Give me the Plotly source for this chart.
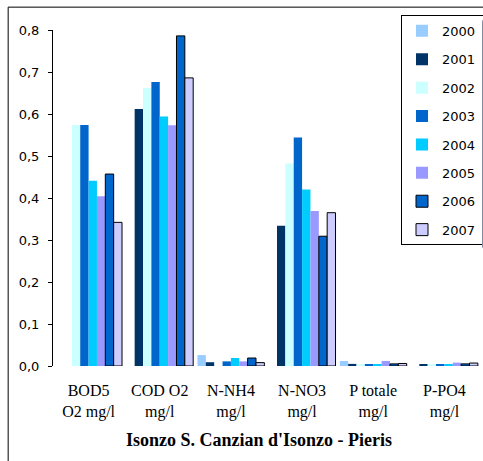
import plotly.graph_objects as go

# parametri e valori
categories = ["BOD5<br>O2 mg/l", "COD O2<br>mg/l", "N-NH4<br>mg/l",
              "N-NO3<br>mg/l", "P totale<br>mg/l", "P-PO4<br>mg/l"]
years = ["2000", "2001", "2002", "2003", "2004", "2005", "2006", "2007"]

v2000 = [None, None, 0.026, None, 0.012, None]
v2001 = [None, 0.612, 0.009, 0.334, 0.005, 0.004]
v2002 = [0.574, 0.662, None, 0.482, 0.004, 0.003]
v2003 = [0.574, 0.676, 0.011, 0.544, 0.004, 0.004]
v2004 = [0.441, 0.594, 0.019, 0.420, 0.004, 0.004]
v2005 = [0.404, 0.573, 0.011, 0.369, 0.012, 0.008]
v2006 = [0.457, 0.786, 0.019, 0.309, 0.005, 0.005]
v2007 = [0.342, 0.686, 0.008, 0.365, 0.006, 0.007]

values = [v2000, v2001, v2002, v2003, v2004, v2005, v2006, v2007]
colors = ["#99CCFF", "#003366", "#CCFFFF", "#0066CC",
          "#00CCFF", "#9999FF", "#0066CC", "#CCCCFF"]
outlined = [False, False, False, False, False, False, True, True]

fig = go.Figure()
for yr, vals, col, out in zip(years, values, colors, outlined):
    fig.add_trace(go.Bar(
        x=categories, y=vals, name=yr, legendgroup=yr,
        marker=dict(color=col, line=dict(color="black", width=1 if out else 0)),
    ))

fig.update_layout(
    width=483, height=461,
    margin=dict(l=53, r=3, t=30, b=95, autoexpand=False),
    paper_bgcolor="white", plot_bgcolor="white",
    barmode="group", bargap=0.06, bargroupgap=0,
    separators=",.",
    showlegend=True,
    legend=dict(x=0.815, xanchor="left", y=1.045, yanchor="top",
                bgcolor="white", bordercolor="black", borderwidth=1,
                font=dict(family="DejaVu Sans", size=13, color="black"),
                traceorder="grouped", tracegroupgap=8.5,
                itemwidth=30),
    xaxis=dict(showline=False, ticks="", showgrid=False, automargin=False,
               ticklabelstandoff=13,
               tickfont=dict(family="Liberation Serif", size=16, color="black")),
    yaxis=dict(range=[0, 0.8], dtick=0.1, tickformat=".1f", automargin=False,
               showline=True, linecolor="black", linewidth=1,
               ticks="outside", ticklen=4, tickcolor="black",
               ticklabelstandoff=6,
               showgrid=False, zeroline=False,
               tickfont=dict(family="DejaVu Sans", size=13, color="black")),
)

# titolo sotto le categorie
fig.add_annotation(text="<b>Isonzo S. Canzian d'Isonzo - Pieris</b>",
                   xref="paper", yref="paper", x=0.482, y=-0.22,
                   showarrow=False, yanchor="middle",
                   font=dict(family="Liberation Serif", size=18, color="black"))

# cornice esterna
fig.add_shape(type="rect", xref="paper", yref="paper",
              x0=-0.105, x1=1.2, y0=-0.5, y1=1.068,
              line=dict(color="black", width=1))

fig.write_html("out.html", config={"displayModeBar": False},
               post_script="document.body.style.margin='0px';")
